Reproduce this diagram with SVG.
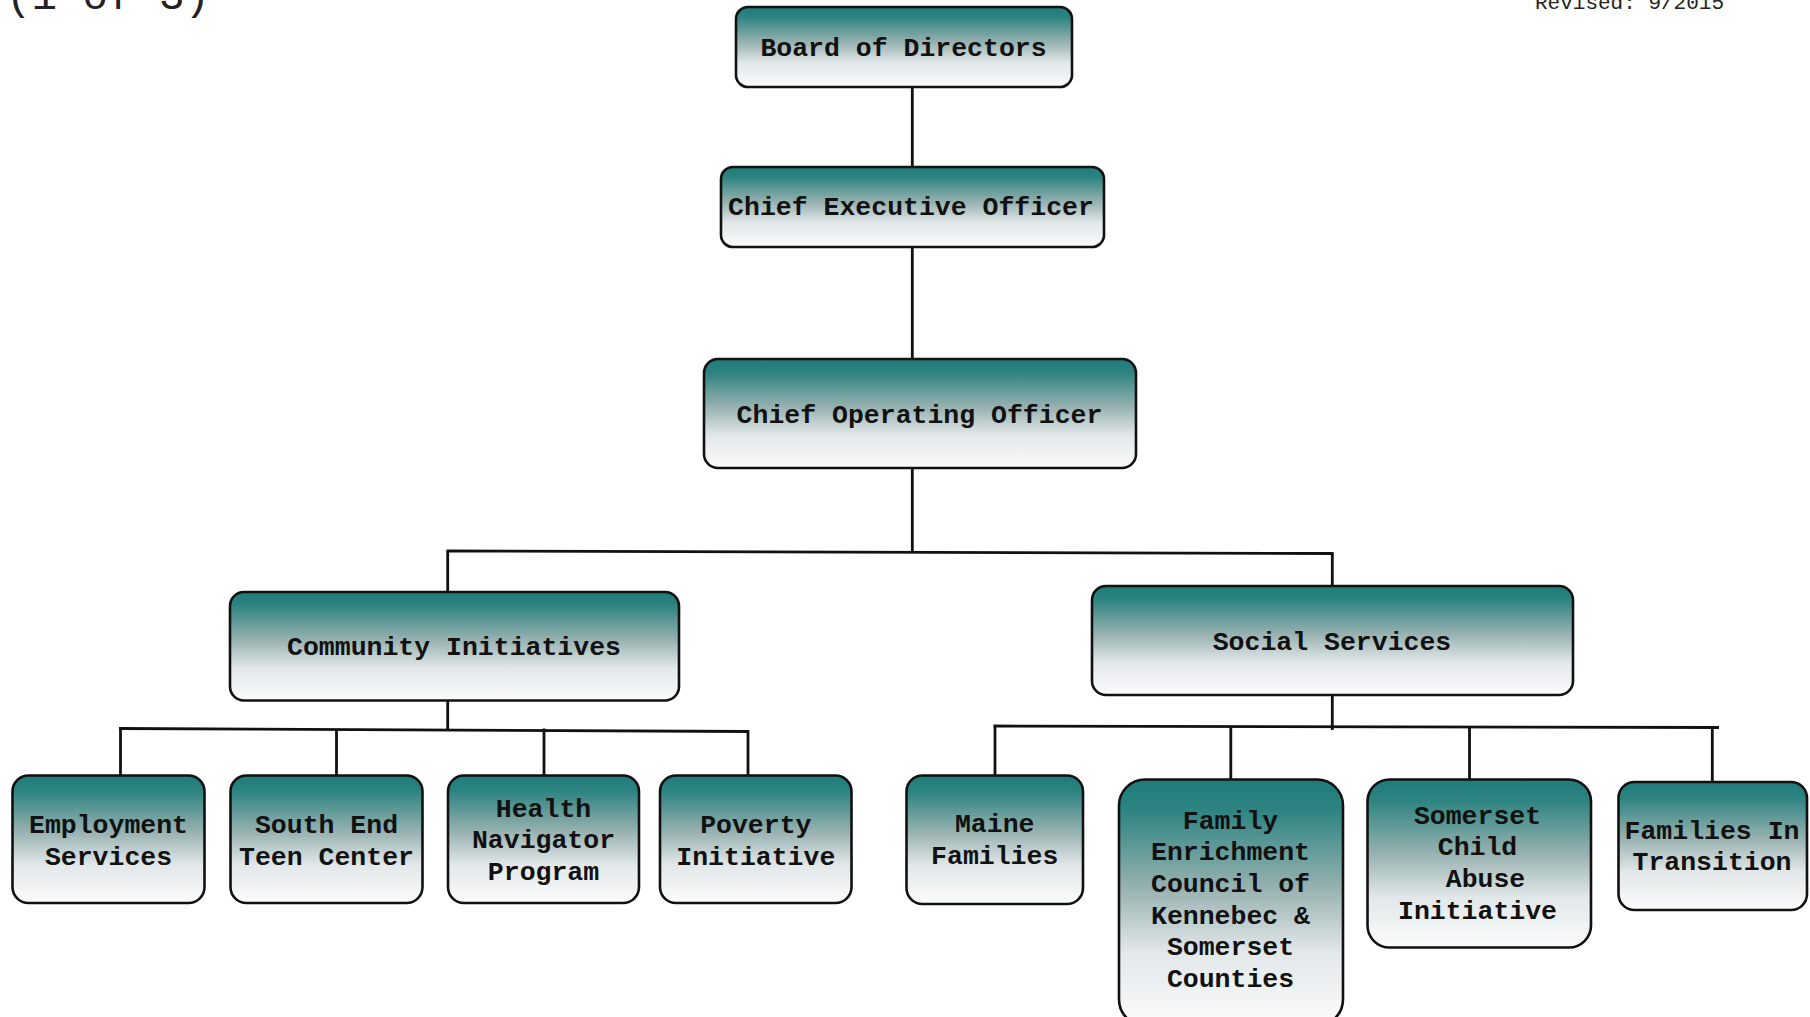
<svg xmlns="http://www.w3.org/2000/svg" width="1810" height="1017" viewBox="0 0 1810 1017">
<defs>
<linearGradient id="g" x1="0" y1="0" x2="0" y2="1">
<stop offset="0" stop-color="#1f7c79"/>
<stop offset="0.12" stop-color="#2c8380"/>
<stop offset="0.45" stop-color="#9ab3b2"/>
<stop offset="0.7" stop-color="#e2e7e9"/>
<stop offset="1" stop-color="#fbfcfc"/>
</linearGradient>
</defs>
<style>
.box{fill:url(#g);stroke:#111;stroke-width:2.6}
.t{font-family:"Liberation Mono","Courier New",monospace;font-weight:bold;font-size:26.5px;fill:#111;text-anchor:middle}
.c{stroke:#111;stroke-width:2.8;fill:none}
.hdr{font-family:"Liberation Mono","Courier New",monospace;fill:#222}
</style>
<rect width="1810" height="1017" fill="#fff"/>
<text class="hdr" x="6" y="8.5" font-size="42.5">(1 of 3)</text>
<text class="hdr" x="1535" y="8.5" font-size="21" fill="#444">Revised: 9/2015</text>

<g id="connectors">
<line class="c" x1="912.3" y1="87" x2="912.3" y2="167"/>
<line class="c" x1="912.3" y1="247" x2="912.3" y2="359"/>
<line class="c" x1="912.3" y1="468" x2="912.3" y2="552"/>
<line class="c" x1="446.5" y1="551" x2="1333.5" y2="553.5"/>
<line class="c" x1="447.7" y1="551" x2="447.7" y2="592"/>
<line class="c" x1="1332.3" y1="553" x2="1332.3" y2="586"/>
<line class="c" x1="447.7" y1="700.5" x2="447.7" y2="730"/>
<line class="c" x1="119" y1="728.5" x2="749" y2="731.5"/>
<line class="c" x1="120.5" y1="728.5" x2="120.5" y2="775.5"/>
<line class="c" x1="336.5" y1="729.5" x2="336.5" y2="775.5"/>
<line class="c" x1="544" y1="728.5" x2="544" y2="775.5"/>
<line class="c" x1="748" y1="730.5" x2="748" y2="775.5"/>
<line class="c" x1="1332.3" y1="695" x2="1332.3" y2="730"/>
<line class="c" x1="993.5" y1="726" x2="1719" y2="727.5"/>
<line class="c" x1="995" y1="726" x2="995" y2="775.5"/>
<line class="c" x1="1230.8" y1="726.5" x2="1230.8" y2="779.5"/>
<line class="c" x1="1469.5" y1="727" x2="1469.5" y2="779.5"/>
<line class="c" x1="1712.3" y1="727.5" x2="1712.3" y2="782"/>
</g>

<g id="board">
<rect class="box" x="736" y="7" width="336" height="80" rx="12"/>
<text class="t" x="903.5" y="55.5">Board of Directors</text>
</g>
<g id="ceo">
<rect class="box" x="721" y="167" width="383" height="80" rx="12"/>
<text class="t" x="911" y="215">Chief Executive Officer</text>
</g>
<g id="coo">
<rect class="box" x="704" y="359" width="432" height="109" rx="14"/>
<text class="t" x="919.5" y="422.5">Chief Operating Officer</text>
</g>
<g id="community">
<rect class="box" x="230" y="592" width="449" height="108.5" rx="14"/>
<text class="t" x="454" y="655">Community Initiatives</text>
</g>
<g id="social">
<rect class="box" x="1092" y="586" width="481" height="109" rx="14"/>
<text class="t" x="1332" y="650">Social Services</text>
</g>

<g id="employment">
<rect class="box" x="12.5" y="775.5" width="192" height="127.5" rx="16"/>
<text class="t" x="108.5" y="833">Employment</text>
<text class="t" x="108.5" y="864.5">Services</text>
</g>
<g id="southend">
<rect class="box" x="230.5" y="775.5" width="192" height="127.5" rx="16"/>
<text class="t" x="326.5" y="833">South End</text>
<text class="t" x="326.5" y="864.5">Teen Center</text>
</g>
<g id="health">
<rect class="box" x="448" y="775.5" width="191" height="127.5" rx="16"/>
<text class="t" x="543.5" y="816.5">Health</text>
<text class="t" x="543.5" y="848">Navigator</text>
<text class="t" x="543.5" y="879.5">Program</text>
</g>
<g id="poverty">
<rect class="box" x="660" y="775.5" width="191.5" height="127.5" rx="16"/>
<text class="t" x="755.8" y="833">Poverty</text>
<text class="t" x="755.8" y="864.5">Initiative</text>
</g>
<g id="maine">
<rect class="box" x="906.5" y="775.5" width="176.5" height="128.5" rx="16"/>
<text class="t" x="994.7" y="832">Maine</text>
<text class="t" x="994.7" y="863.5">Families</text>
</g>
<g id="family">
<rect class="box" x="1119" y="779.5" width="224" height="246" rx="26"/>
<text class="t" x="1230.5" y="828.5">Family</text>
<text class="t" x="1230.5" y="860">Enrichment</text>
<text class="t" x="1230.5" y="891.7">Council of</text>
<text class="t" x="1230.5" y="923.5">Kennebec &amp;</text>
<text class="t" x="1230.5" y="955">Somerset</text>
<text class="t" x="1230.5" y="986.7">Counties</text>
</g>
<g id="somerset">
<rect class="box" x="1367.5" y="779.5" width="223.5" height="168" rx="22"/>
<text class="t" x="1477.5" y="823.5">Somerset</text>
<text class="t" x="1477.5" y="855">Child</text>
<text class="t" x="1485.5" y="887">Abuse</text>
<text class="t" x="1477.5" y="919">Initiative</text>
</g>
<g id="fit">
<rect class="box" x="1618.5" y="782" width="188.5" height="128" rx="16"/>
<text class="t" x="1712" y="838.5">Families In</text>
<text class="t" x="1712" y="870">Transition</text>
</g>
</svg>
